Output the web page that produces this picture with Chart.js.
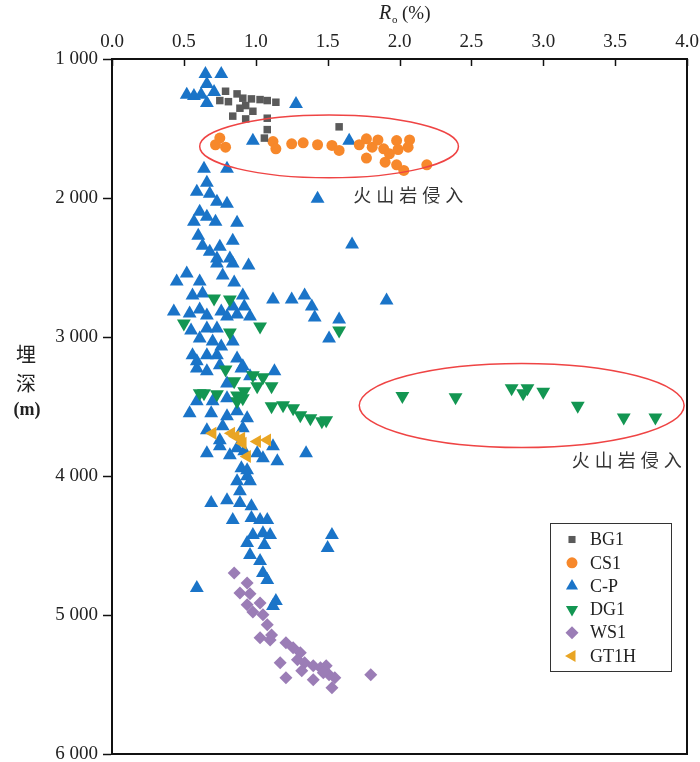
<!DOCTYPE html>
<html>
<head>
<meta charset="utf-8">
<script src="https://cdn.jsdelivr.net/npm/chart.js@4.4.1/dist/chart.umd.min.js"></script>
<style>
  body { margin: 0; background: #fff; }
  #wrap { width: 700px; height: 762px; }
</style>
</head>
<body>
<div id="wrap"><canvas id="myChart"></canvas></div>
<script>
// [Ro (%), depth (m)]
const bg1 = [
    [0.79, 1232], [0.87, 1251], [0.75, 1299], [0.81, 1307], [0.91, 1282], [0.97, 1287],
    [1.03, 1292], [1.08, 1299], [1.14, 1311], [0.93, 1335], [0.89, 1354], [0.98, 1376],
    [0.84, 1411], [0.93, 1431], [1.08, 1426], [1.08, 1508], [1.06, 1569], [1.58, 1488],
];
const cs1 = [
    [0.75, 1569], [0.72, 1617], [0.79, 1634], [1.12, 1594], [1.14, 1646], [1.25, 1610],
    [1.33, 1603], [1.43, 1617], [1.53, 1622], [1.58, 1658], [1.72, 1617], [1.77, 1574],
    [1.81, 1634], [1.85, 1582], [1.89, 1646], [1.77, 1713], [1.90, 1742], [1.93, 1682],
    [1.98, 1587], [1.99, 1651], [1.98, 1761], [2.03, 1802], [2.07, 1582], [2.06, 1634],
    [2.19, 1761],
];
const cp = [
    [0.65, 1108], [0.76, 1108], [0.66, 1179], [0.52, 1258], [0.57, 1266], [0.62, 1258],
    [0.71, 1237], [0.66, 1316], [1.28, 1323], [0.98, 1589], [1.65, 1589], [0.64, 1790],
    [0.80, 1790], [0.66, 1890], [0.59, 1955], [0.68, 1969], [0.73, 2027], [0.80, 2041],
    [0.61, 2099], [0.66, 2134], [0.57, 2170], [0.72, 2170], [0.87, 2178], [1.43, 2005],
    [0.60, 2271], [0.84, 2307], [0.63, 2343], [0.75, 2350], [1.67, 2335], [0.68, 2386],
    [0.73, 2436], [0.82, 2436], [0.84, 2472], [0.95, 2486], [0.73, 2472], [0.77, 2558],
    [0.52, 2544], [0.45, 2601], [0.61, 2601], [0.85, 2608], [0.56, 2702], [0.63, 2687],
    [0.91, 2702], [1.12, 2730], [1.25, 2730], [1.34, 2702], [1.39, 2781], [1.41, 2860],
    [1.58, 2874], [1.91, 2738], [0.43, 2817], [0.54, 2831], [0.61, 2802], [0.66, 2845],
    [0.76, 2817], [0.84, 2781], [0.92, 2781], [0.87, 2838], [0.96, 2853], [0.55, 2953],
    [0.66, 2939], [0.73, 2939], [0.80, 2853], [0.61, 3010], [0.70, 3032], [0.76, 3068],
    [0.84, 3032], [0.56, 3132], [0.66, 3132], [0.73, 3132], [0.87, 3154], [0.59, 3226],
    [0.66, 3247], [0.75, 3204], [0.91, 3211], [0.80, 3334], [0.96, 3283], [1.13, 3247],
    [0.59, 3463], [0.70, 3463], [0.80, 3441], [0.54, 3549], [0.69, 3549], [0.87, 3535],
    [1.51, 3010], [0.59, 3175], [0.90, 3226], [0.80, 3570], [0.94, 3585], [0.66, 3671],
    [0.77, 3642], [0.91, 3657], [0.75, 3743], [0.66, 3836], [0.75, 3786], [0.82, 3850],
    [0.87, 3800], [1.01, 3836], [1.05, 3872], [1.12, 3786], [1.15, 3893], [1.35, 3836],
    [0.90, 3944], [0.94, 4001], [0.87, 4037], [0.89, 4109], [0.92, 3822], [0.94, 3958],
    [0.96, 4037], [0.69, 4195], [0.80, 4174], [0.89, 4195], [0.97, 4217], [0.97, 4303],
    [0.84, 4317], [1.03, 4317], [1.08, 4317], [0.98, 4425], [1.05, 4411], [1.10, 4425],
    [0.94, 4482], [1.06, 4497], [0.96, 4568], [1.03, 4612], [1.05, 4698], [1.08, 4748],
    [0.59, 4805], [1.14, 4899], [1.53, 4425], [1.50, 4518], [1.12, 4935],
];
const dg1 = [
    [2.02, 3425], [2.39, 3434], [2.78, 3369], [2.86, 3405], [2.89, 3369], [3.00, 3393],
    [3.24, 3494], [3.56, 3580], [3.78, 3580],
    [0.71, 2723], [0.82, 2730], [0.50, 2903], [1.03, 2924], [0.82, 2967], [1.58, 2953],
    [0.79, 3233], [0.85, 3319], [0.98, 3276], [1.05, 3290], [1.11, 3355], [1.01, 3355],
    [0.61, 3405], [0.73, 3412], [0.87, 3420], [0.91, 3441], [0.92, 3391], [0.87, 3463],
    [1.11, 3499], [1.19, 3491], [1.26, 3513], [1.31, 3563], [1.38, 3585], [1.46, 3606],
    [1.49, 3599], [0.64, 3405],
];
const ws1 = [
    [0.85, 4698], [0.94, 4770], [0.89, 4842], [0.96, 4848], [0.94, 4927], [1.03, 4913],
    [0.98, 4978], [1.05, 4999], [1.08, 5071], [1.03, 5164], [1.10, 5179], [1.11, 5143],
    [1.21, 5200], [1.26, 5236], [1.31, 5272], [1.29, 5322], [1.17, 5344], [1.34, 5344],
    [1.32, 5401], [1.40, 5365], [1.45, 5380], [1.49, 5365], [1.51, 5430], [1.55, 5452],
    [1.40, 5466], [1.21, 5452], [1.53, 5523], [1.47, 5416], [1.80, 5430],
];
const gt1h = [
    [0.70, 3693], [0.83, 3693], [0.86, 3716], [0.91, 3764], [1.01, 3752], [1.08, 3741],
    [0.94, 3860], [0.90, 3728],
];

const xTicks = [0, 0.5, 1, 1.5, 2, 2.5, 3, 3.5, 4];
const yTicks = [1000, 2000, 3000, 4000, 5000, 6000];

// red rings round the volcanic intrusion points, in data units
const rings = [
    { ro: 1.51, depth: 1629, dro: 0.90, ddepth: 226, label: '火山岩侵入', lro: 2.06, ldepth: 1977 },
    { ro: 2.85, depth: 3493, dro: 1.13, ddepth: 302, label: '火山岩侵入', lro: 3.58, ldepth: 3888 },
];

const serif = "'Liberation Serif', 'Times New Roman', serif";
const cjk = "'Noto Sans CJK SC', sans-serif";

const series = [
    { label: 'BG1', data: bg1, color: '#5a5a5a', style: 'rect', radius: 5.3, rotation: 0, order: 2 },
    { label: 'CS1', data: cs1, color: '#f7882b', style: 'circle', radius: 5.5, rotation: 0, order: 3 },
    { label: 'C-P', data: cp, color: '#1a74c8', style: 'triangle', radius: 8, rotation: 0, order: 5 },
    { label: 'DG1', data: dg1, color: '#139652', style: 'triangle', radius: 8, rotation: 180, order: 1 },
    { label: 'WS1', data: ws1, color: '#9b7db6', style: 'rectRot', radius: 6.5, rotation: 0, order: 4 },
    { label: 'GT1H', data: gt1h, color: '#e9a524', style: 'triangle', radius: 7.5, rotation: -90, order: 0 },
];

const datasets = series.map(s => ({
    label: s.label,
    data: s.data.map(p => ({ x: p[0], y: p[1] })),
    backgroundColor: s.color,
    borderColor: s.color,
    borderWidth: 0,
    pointStyle: s.style,
    pointRadius: s.radius,
    pointRotation: s.rotation,
    order: s.order,
}));

function drawMarker(ctx, s, x, y) {
    ctx.fillStyle = s.color;
    ctx.strokeStyle = s.color;
    ctx.lineWidth = 0;
    if (Chart.helpers && Chart.helpers.drawPoint) {
        Chart.helpers.drawPoint(ctx, { pointStyle: s.style, radius: s.radius, rotation: s.rotation, borderWidth: 0 }, x, y);
    } else {
        ctx.beginPath();
        ctx.arc(x, y, s.radius, 0, Math.PI * 2);
        ctx.fill();
    }
}

// keep the plot box where the reference has it: no extra room for edge labels
function noEdgePadding(s) {
    s.paddingLeft = 0;
    s.paddingRight = 0;
    s.paddingTop = 0;
    s.paddingBottom = 0;
}

const extras = {
    id: 'extras',
    afterDatasetsDraw(chart) {
        const { ctx, chartArea: a, scales: { x, y } } = chart;
        ctx.save();

        // inner tick marks on the top axis
        ctx.strokeStyle = '#111';
        ctx.lineWidth = 1.5;
        xTicks.forEach(v => {
            const px = Math.round(x.getPixelForValue(v)) + 0.5;
            ctx.beginPath();
            ctx.moveTo(px, a.top);
            ctx.lineTo(px, a.top + 7);
            ctx.stroke();
        });

        // bottom and right frame
        ctx.lineWidth = 2;
        ctx.beginPath();
        ctx.moveTo(a.left, a.bottom);
        ctx.lineTo(a.right, a.bottom);
        ctx.lineTo(a.right, a.top);
        ctx.stroke();

        // rings + labels
        rings.forEach(r => {
            const cx = x.getPixelForValue(r.ro);
            const cy = y.getPixelForValue(r.depth);
            const rx = Math.abs(x.getPixelForValue(r.ro + r.dro) - cx);
            const ry = Math.abs(y.getPixelForValue(r.depth + r.ddepth) - cy);
            ctx.strokeStyle = '#ef4444';
            ctx.lineWidth = 1.5;
            ctx.beginPath();
            ctx.ellipse(cx, cy, rx, ry, 0, 0, Math.PI * 2);
            ctx.stroke();

            const lx = x.getPixelForValue(r.lro);
            const ly = y.getPixelForValue(r.ldepth);
            ctx.fillStyle = '#333';
            ctx.font = '18px ' + cjk;
            ctx.textAlign = 'center';
            ctx.textBaseline = 'middle';
            const chars = Array.from(r.label);
            const gap = 23;
            chars.forEach((c, i) => {
                ctx.fillText(c, lx + (i - (chars.length - 1) / 2) * gap, ly);
            });
        });

        // legend box
        const bx = 550.5, by = 523.5, bw = 121, bh = 148;
        ctx.strokeStyle = '#333';
        ctx.lineWidth = 1;
        ctx.fillStyle = '#fff';
        ctx.fillRect(bx, by, bw, bh);
        ctx.strokeRect(bx, by, bw, bh);
        series.forEach((s, i) => {
            const ly = by + 16 + i * 23.3;
            const legendS = Object.assign({}, s, { radius: s.style === 'rect' ? 5 : Math.min(s.radius, 7) });
            drawMarker(ctx, legendS, bx + 21.5, ly);
            ctx.fillStyle = '#222';
            ctx.font = '18px ' + serif;
            ctx.textAlign = 'left';
            ctx.textBaseline = 'middle';
            ctx.fillText(s.label, bx + 39.5, ly + 1);
        });

        ctx.restore();
    },
    afterDraw(chart) {
        const { ctx } = chart;
        ctx.save();
        ctx.fillStyle = '#222';
        ctx.textBaseline = 'alphabetic';
        ctx.textAlign = 'left';
        // x title: italic R, subscript o, (%)
        ctx.font = 'italic 20px ' + serif;
        ctx.fillText('R', 379, 19);
        ctx.font = '11px ' + serif;
        ctx.fillText('o', 392, 23);
        ctx.font = '19px ' + serif;
        ctx.fillText('(%)', 402, 19);

        // y title, stacked
        ctx.textAlign = 'center';
        ctx.textBaseline = 'middle';
        ctx.font = '20px ' + cjk;
        ctx.fillText('埋', 26, 354);
        ctx.fillText('深', 26, 383);
        ctx.font = 'bold 18px ' + serif;
        ctx.fillText('(m)', 27, 410);
        ctx.restore();
    }
};

const config = {
    type: 'scatter',
    data: { datasets: datasets },
    options: {
        responsive: true,
        maintainAspectRatio: false,
        animation: false,
        layout: { padding: { left: 0, top: 0, right: 13, bottom: 7 } },
        plugins: {
            legend: { display: false },
            tooltip: { enabled: false },
        },
        scales: {
            x: {
                type: 'linear',
                position: 'top',
                min: 0,
                max: 4,
                afterFit: s => { s.height = 59; noEdgePadding(s); },
                afterBuildTicks: s => { s.ticks = xTicks.map(v => ({ value: v })); },
                grid: { drawOnChartArea: false, drawTicks: false },
                border: { display: true, color: '#111', width: 2 },
                ticks: {
                    padding: 6,
                    color: '#222',
                    font: { family: serif, size: 19 },
                    maxRotation: 0,
                    callback: v => Number(v).toFixed(1),
                }
            },
            y: {
                type: 'linear',
                reverse: true,
                min: 1000,
                max: 6000,
                afterFit: s => { s.width = 112; noEdgePadding(s); },
                afterBuildTicks: s => { s.ticks = yTicks.map(v => ({ value: v })); },
                grid: {
                    drawOnChartArea: false,
                    drawTicks: true,
                    tickLength: 9,
                    tickColor: '#111',
                    tickWidth: 1.5,
                },
                border: { display: true, color: '#111', width: 2 },
                ticks: {
                    padding: 5,
                    color: '#222',
                    font: { family: serif, size: 19 },
                    callback: v => String(v).replace(/(\d)(\d{3})$/, '$1 $2'),
                }
            }
        }
    },
    plugins: [extras]
};

const myChart = new Chart(document.getElementById('myChart'), config);
</script>
</body>
</html>
